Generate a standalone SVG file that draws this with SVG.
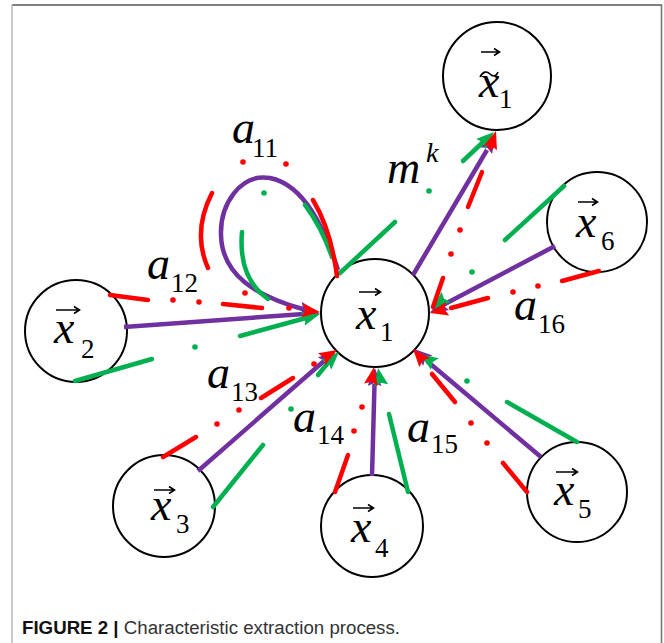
<svg xmlns="http://www.w3.org/2000/svg" width="664" height="643" viewBox="0 0 664 643">
<defs>
<marker id="ahR" viewBox="0 0 18 14" refX="18" refY="7" markerWidth="18" markerHeight="14" markerUnits="userSpaceOnUse" orient="auto"><path d="M0,0 L18,7 L0,14 L3,7 z" fill="#FF0000"/></marker>
<marker id="ahG" viewBox="0 0 18 14" refX="18" refY="7" markerWidth="18" markerHeight="14" markerUnits="userSpaceOnUse" orient="auto"><path d="M0,0 L18,7 L0,14 L3,7 z" fill="#00B050"/></marker>
<marker id="ahP" viewBox="0 0 18 14" refX="18" refY="7" markerWidth="18" markerHeight="14" markerUnits="userSpaceOnUse" orient="auto"><path d="M0,0 L18,7 L0,14 L3,7 z" fill="#7030A0"/></marker>
</defs>
<rect x="0" y="0" width="664" height="643" fill="#fff"/>
<g id="frame" stroke-width="1.6">
<line x1="12" y1="5" x2="662" y2="5" stroke="#555"/>
<line x1="12" y1="5" x2="12" y2="643" stroke="#bbb"/>
<line x1="661.5" y1="5" x2="661.5" y2="643" stroke="#777"/>
</g>

<g fill="#fff" stroke="#000" stroke-width="2">
<g id="n_x1"><circle cx="375" cy="313" r="54"/></g>
<g id="n_xt1"><circle cx="497" cy="76" r="54"/></g>
<g id="n_x6"><circle cx="597" cy="222" r="50"/></g>
<g id="n_x2"><circle cx="76" cy="331" r="51"/></g>
<g id="n_x3"><circle cx="164" cy="506" r="51"/></g>
<g id="n_x4"><circle cx="372" cy="526" r="51"/></g>
<g id="n_x5"><circle cx="577" cy="492" r="50"/></g>
</g>

<g id="connectors" fill="none" stroke-width="4.5">
<g id="purple" stroke="#7030A0">
<path d="M338 270 C325 230 305 185 270 178 C240 173 220 205 221 235 C222 275 255 296 306 310"/>
<line x1="124" y1="327" x2="304" y2="314"/>
<line x1="198" y1="471" x2="324" y2="361"/>
<line x1="372" y1="476" x2="374.5" y2="384"/>
<line x1="541" y1="457" x2="427" y2="361"/>
<line x1="555" y1="246" x2="443" y2="305"/>
<line x1="413" y1="275" x2="487" y2="150"/>
</g>
<g id="purpleHeads" stroke="none" marker-end="url(#ahP)">
<path d="M302 309 L318 312"/>
<path d="M300 314.3 L320 313"/>
<path d="M322 363 L336 351"/>
<path d="M374.6 384 L375 368"/>
<path d="M428 361 L414 349"/>
<path d="M444 305 L430 312.5"/>
<path d="M487 149 L495 135"/>
</g>
<g id="green" stroke="#00B050" stroke-linecap="round">
<path d="M305 205 Q322 228 332 257"/>
<path d="M242 232 Q238 278 268 299"/>
<line x1="75" y1="381" x2="152" y2="359"/>
<line x1="240" y1="336" x2="306" y2="318"/>
<line x1="213" y1="507" x2="263" y2="445"/>
<line x1="318" y1="375" x2="327" y2="364"/>
<line x1="408" y1="492" x2="389" y2="414"/>
<line x1="577" y1="442" x2="507" y2="402"/>
<line x1="564" y1="186" x2="505" y2="240"/>
<line x1="340" y1="273" x2="395" y2="222"/>
<line x1="463" y1="161" x2="482" y2="143"/>
</g>
<g id="greenDots" fill="#00B050" stroke="none">
<circle cx="264" cy="193" r="2.8"/>
<circle cx="195" cy="347" r="2.8"/>
<circle cx="291" cy="409" r="2.8"/>
<circle cx="467" cy="381" r="2.8"/>
<circle cx="472" cy="272" r="2.8"/>
<circle cx="429" cy="191" r="2.8"/>
</g>
<g id="greenHeads" stroke="none" marker-end="url(#ahG)">
<path d="M306 318 L320 314"/>
<path d="M327 364 L339 352"/>
<path d="M381 384 L378 368"/>
<path d="M438 366 L420 354"/>
<path d="M446 297 L433 309"/>
<path d="M482 143 L494 132"/>
</g>
<g id="red" stroke="#FF0000" stroke-linecap="round">
<path d="M337 276 Q331 230 313 200"/>
<path d="M212 193 Q192 232 208 268"/>
<line x1="110" y1="295" x2="148" y2="300"/>
<line x1="223" y1="304" x2="262" y2="308"/>
<line x1="163" y1="457" x2="196" y2="437"/>
<line x1="261" y1="398" x2="293" y2="378"/>
<line x1="335" y1="492" x2="348" y2="455"/>
<line x1="527" y1="492" x2="503" y2="463"/>
<line x1="455" y1="402" x2="432" y2="374"/>
<line x1="599" y1="271" x2="562" y2="281"/>
<line x1="488" y1="298" x2="451" y2="308"/>
<line x1="433" y1="307" x2="443" y2="278"/>
<line x1="468" y1="207" x2="482" y2="172"/>
</g>
<g id="redDots" fill="#FF0000" stroke="none">
<circle cx="286" cy="164" r="2.8"/>
<circle cx="243" cy="162" r="2.8"/>
<circle cx="245" cy="293" r="2.8"/>
<circle cx="173" cy="300" r="2.8"/>
<circle cx="199" cy="302" r="2.8"/>
<circle cx="289" cy="308" r="2.8"/>
<circle cx="217" cy="424" r="2.8"/>
<circle cx="239" cy="410" r="2.8"/>
<circle cx="314" cy="364" r="2.8"/>
<circle cx="354" cy="431" r="2.8"/>
<circle cx="362" cy="407" r="2.8"/>
<circle cx="487" cy="443" r="2.8"/>
<circle cx="471" cy="423" r="2.8"/>
<circle cx="538" cy="286" r="2.8"/>
<circle cx="513" cy="292" r="2.8"/>
<circle cx="451" cy="254" r="2.8"/>
<circle cx="460" cy="230" r="2.8"/>
<circle cx="491" cy="147" r="2.8"/>
</g>
<g id="redHeads" stroke="none" marker-end="url(#ahR)">
<path d="M300 310 L320 312"/>
<path d="M322 359 L337 350"/>
<path d="M371 384 L374 367"/>
<path d="M425 363 L413 349"/>
<path d="M450 308 L430 313"/>
<path d="M490 149 L496 131"/>
</g>
</g>

<g id="accents" fill="none" stroke="#000" stroke-width="1.6">
<path d="M359 292 H380 M375 288.5 L380.5 292 L375 295.5"/>
<path d="M481 52 H499 M494 48.5 L499.5 52 L494 55.5"/>
<path d="M480 77 C483 71 487 71 490 74 C493 77 496 77 498 72"/>
<path d="M578 202 H597 M592 198.5 L597.5 202 L592 205.5"/>
<path d="M56 310 H79 M74 306.5 L79.5 310 L74 313.5"/>
<path d="M154 490 H174 M169 486.5 L174.5 490 L169 493.5"/>
<path d="M353 508 H373 M368 504.5 L373.5 508 L368 511.5"/>
<path d="M556 472 H577 M572 468.5 L577.5 472 L572 475.5"/>
</g>

<g id="labels" fill="#000">
<g id="l_x1"><text x="356" y="329" font-family="Liberation Serif" font-style="italic" font-size="46">x</text><text x="380" y="341" font-family="Liberation Serif" font-size="27">1</text></g>
<g id="l_xt1"><text x="479" y="97" font-family="Liberation Serif" font-style="italic" font-size="46">x</text><text x="499" y="108" font-family="Liberation Serif" font-size="27">1</text></g>
<g id="l_x6"><text x="576" y="237" font-family="Liberation Serif" font-style="italic" font-size="46">x</text><text x="601" y="250" font-family="Liberation Serif" font-size="27">6</text></g>
<g id="l_x2"><text x="54" y="343" font-family="Liberation Serif" font-style="italic" font-size="46">x</text><text x="81" y="358" font-family="Liberation Serif" font-size="27">2</text></g>
<g id="l_x3"><text x="151" y="520" font-family="Liberation Serif" font-style="italic" font-size="46">x</text><text x="176" y="533" font-family="Liberation Serif" font-size="27">3</text></g>
<g id="l_x4"><text x="351" y="542" font-family="Liberation Serif" font-style="italic" font-size="46">x</text><text x="375" y="557" font-family="Liberation Serif" font-size="27">4</text></g>
<g id="l_x5"><text x="554" y="505" font-family="Liberation Serif" font-style="italic" font-size="46">x</text><text x="578" y="518" font-family="Liberation Serif" font-size="27">5</text></g>
<g id="l_a11"><text x="232" y="143" font-family="Liberation Serif" font-style="italic" font-size="46">a</text><text x="252" y="157" font-family="Liberation Serif" font-size="27">11</text></g>
<g id="l_a12"><text x="147" y="279" font-family="Liberation Serif" font-style="italic" font-size="46">a</text><text x="171" y="292" font-family="Liberation Serif" font-size="27">12</text></g>
<g id="l_a13"><text x="207" y="388" font-family="Liberation Serif" font-style="italic" font-size="46">a</text><text x="231" y="401" font-family="Liberation Serif" font-size="27">13</text></g>
<g id="l_a14"><text x="293" y="432" font-family="Liberation Serif" font-style="italic" font-size="46">a</text><text x="317" y="444" font-family="Liberation Serif" font-size="27">14</text></g>
<g id="l_a15"><text x="407" y="442" font-family="Liberation Serif" font-style="italic" font-size="46">a</text><text x="431" y="453" font-family="Liberation Serif" font-size="27">15</text></g>
<g id="l_a16"><text x="514" y="320" font-family="Liberation Serif" font-style="italic" font-size="46">a</text><text x="538" y="333" font-family="Liberation Serif" font-size="27">16</text></g>
<g id="l_mk"><text x="387" y="183" font-family="Liberation Serif" font-style="italic" font-size="46">m</text><text x="426" y="162" font-family="Liberation Serif" font-style="italic" font-size="28">k</text></g>
</g>

<text x="22" y="634" font-family="Liberation Sans" font-size="18" fill="#333" textLength="378" lengthAdjust="spacingAndGlyphs"><tspan font-weight="bold" fill="#111">FIGURE 2 |</tspan> Characteristic extraction process.</text>
</svg>
